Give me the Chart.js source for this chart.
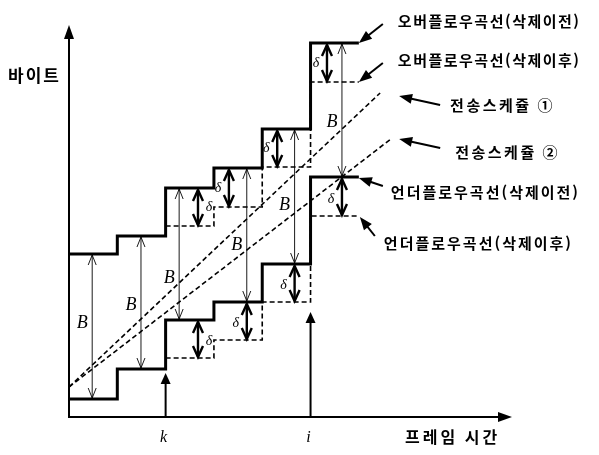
<!DOCTYPE html>
<html lang="ko">
<head>
<meta charset="utf-8">
<title>오버플로우 / 언더플로우 곡선</title>
<script src="https://cdn.jsdelivr.net/npm/chart.js@4.4.1/dist/chart.umd.min.js"></script>
<style>
  html, body { margin: 0; padding: 0; background: #fff; }
  #wrap { width: 599px; height: 455px; }
</style>
</head>
<body>
<div id="wrap"><canvas id="bufferChart" width="599" height="455"></canvas></div>
<script>
// frame boundaries (프레임 시간) and byte levels
const frames = [0, 1, 2, 3, 4, 5, 6]
const overBefore = [163, 181, 229, 249, 288, 374]   // 오버플로우곡선(삭제이전)
const underBefore = [18, 48, 97, 115, 153, 240]     // 언더플로우곡선(삭제이전)
const afterFrames = [2, 3, 4, 5, 6]
const overAfter = [191, 210, 250, 335]              // 오버플로우곡선(삭제이후)
const underAfter = [59, 77, 115, 201]               // 언더플로우곡선(삭제이후)
const sched1X = [0, 6.44], sched1Y = [30, 324]      // 전송스케쥴 ①
const sched2X = [0, 6.69], sched2Y = [30, 279]      // 전송스케쥴 ②

// where the B / δ arrows stand inside each frame
const bArrowX = [0.48, 1.49, 2.28, 3.68, 4.67, 5.65]
const bLabelY = [94, 112, 139, 172, 212, 295]
const overDeltaX = [2.67, 3.31, 4.31, 5.34]
const underDeltaX = [2.67, 3.68, 4.67, 5.65]
const deltaSide = [1, -1, -1, -1]
const markX = [2, 5], markLabels = ['k', 'i'], markTop = [44, 105]
const xMax = 9.17, yMax = 392

const stepPoints = (xs, levels) =>
    levels.map((y, i) => ({ x: xs[i], y })).concat([{ x: xs[levels.length], y: levels[levels.length - 1] }])
const linePoints = (xs, ys) => xs.map((x, i) => ({ x, y: ys[i] }))

const KR = '"Noto Sans CJK KR", "Noto Sans", sans-serif'
const SERIF = '"Liberation Serif", "DejaVu Serif", serif'

// pointer labels: anchor in data units, then pixel offsets for tip / tail / text
const pointers = [
    { text: '오버플로우곡선(삭제이전)', at: () => [6, overBefore[5]], tip: [0, 0], tail: [24, -19], label: [39, -22], sp: 1.5 },
    { text: '오버플로우곡선(삭제이후)', at: () => [6, overAfter[3]], tip: [0, 0], tail: [24, -19], label: [39, -22], sp: 1.5 },
    { text: '전송스케쥴 ①', at: () => [sched1X[1], sched1Y[1]], tip: [19, 3], tail: [41, 9], label: [51, 9], sp: 2.5 },
    { text: '전송스케쥴 ②', at: () => [sched2X[1], sched2Y[1]], tip: [7, 1], tail: [41, 9], label: [56, 13], sp: 2.5 },
    { text: '언더플로우곡선(삭제이전)', at: () => [6, underBefore[5]], tip: [0, 1], tail: [24, 8], label: [32, 14], sp: 2 },
    { text: '언더플로우곡선(삭제이후)', at: () => [6, underAfter[3]], tip: [1, 1], tail: [15, 19], label: [24, 26], sp: 2 }
]

const filledHead = (ctx, x, y, ang, len, half) => {
    ctx.beginPath()
    ctx.moveTo(x, y)
    ctx.lineTo(x - len * Math.cos(ang) + half * Math.sin(ang), y - len * Math.sin(ang) - half * Math.cos(ang))
    ctx.lineTo(x - len * Math.cos(ang) - half * Math.sin(ang), y - len * Math.sin(ang) + half * Math.cos(ang))
    ctx.closePath()
    ctx.fill()
}

const openHead = (ctx, x, y, ang, len, half) => {
    ctx.beginPath()
    ctx.moveTo(x - len * Math.cos(ang) + half * Math.sin(ang), y - len * Math.sin(ang) - half * Math.cos(ang))
    ctx.lineTo(x, y)
    ctx.lineTo(x - len * Math.cos(ang) - half * Math.sin(ang), y - len * Math.sin(ang) + half * Math.cos(ang))
    ctx.stroke()
}

// vertical double arrow between two pixel heights
const doubleArrow = (ctx, x, y1, y2, width, len, half) => {
    ctx.lineWidth = width
    ctx.beginPath()
    ctx.moveTo(x, y1)
    ctx.lineTo(x, y2)
    ctx.stroke()
    const down = y2 > y1 ? Math.PI / 2 : -Math.PI / 2
    openHead(ctx, x, y2, down, len, half)
    openHead(ctx, x, y1, -down, len, half)
}

const text = (ctx, str, x, y, font, align, spacing) => {
    ctx.font = font
    ctx.textAlign = align || 'left'
    ctx.textBaseline = 'middle'
    ctx.letterSpacing = (spacing || 0) + 'px'
    ctx.fillText(str, x, y)
    ctx.letterSpacing = '0px'
}

const annotations = {
    id: 'annotations',
    afterDatasetsDraw(chart) {
        const { ctx, chartArea } = chart
        const X = v => chart.scales.x.getPixelForValue(v)
        const Y = v => chart.scales.y.getPixelForValue(v)
        ctx.save()
        ctx.strokeStyle = '#000'
        ctx.fillStyle = '#000'
        ctx.lineCap = 'butt'

        // axes with arrow heads
        ctx.lineWidth = 2
        ctx.beginPath()
        ctx.moveTo(X(0), Y(yMax) + 8)
        ctx.lineTo(X(0), Y(0))
        ctx.lineTo(X(xMax) - 8, Y(0))
        ctx.stroke()
        filledHead(ctx, X(0), Y(yMax), -Math.PI / 2, 14, 5)
        filledHead(ctx, X(xMax), Y(0), 0, 14, 5)

        // k, i markers
        markX.forEach((m, i) => {
            ctx.lineWidth = 2
            ctx.beginPath()
            ctx.moveTo(X(m), Y(0))
            ctx.lineTo(X(m), Y(markTop[i]) + 8)
            ctx.stroke()
            filledHead(ctx, X(m), Y(markTop[i]), -Math.PI / 2, 11, 5)
            text(ctx, markLabels[i], X(m) - 2, chartArea.bottom + 21, 'italic 16px ' + SERIF, 'center')
        })

        // B arrows (thin) between the two curves before deletion
        ctx.lineWidth = 1
        bArrowX.forEach((bx, j) => {
            doubleArrow(ctx, X(bx), Y(overBefore[j]) + 1, Y(underBefore[j]) - 1, 0.9, 10, 4)
            text(ctx, 'B', X(bx) - 10, Y(bLabelY[j]), 'italic 18px ' + SERIF, 'center')
        })

        // δ arrows (thick)
        overDeltaX.forEach((dx, i) => {
            const f = afterFrames[i]
            const y1 = Y(overBefore[f]) + 2, y2 = Y(overAfter[i]) - 1
            doubleArrow(ctx, X(dx), y1, y2, 2.4, 11, 5)
            text(ctx, 'δ', X(dx) + deltaSide[i] * 11, (y1 + y2) / 2, 'italic 14px ' + SERIF, 'center')
        })
        underDeltaX.forEach((dx, i) => {
            const f = afterFrames[i]
            const y1 = Y(underBefore[f]) + 2, y2 = Y(underAfter[i]) - 1
            doubleArrow(ctx, X(dx), y1, y2, 2.4, 11, 5)
            text(ctx, 'δ', X(dx) + deltaSide[i] * 11, (y1 + y2) / 2 + 2, 'italic 14px ' + SERIF, 'center')
        })

        // pointer labels
        pointers.forEach(p => {
            const [ax, ay] = p.at()
            const tx = X(ax) + p.tip[0], ty = Y(ay) + p.tip[1]
            const sx = tx + p.tail[0], sy = ty + p.tail[1]
            const ang = Math.atan2(ty - sy, tx - sx)
            ctx.lineWidth = 2
            ctx.beginPath()
            ctx.moveTo(sx, sy)
            ctx.lineTo(tx - 8 * Math.cos(ang), ty - 8 * Math.sin(ang))
            ctx.stroke()
            filledHead(ctx, tx, ty, ang, 13, 5)
            text(ctx, p.text, tx + p.label[0], ty + p.label[1], 'bold 15px ' + KR, 'left', p.sp)
        })

        // axis titles
        text(ctx, '바이트', chartArea.left - 61, chartArea.top + 51, 'bold 17px ' + KR, 'left', 2)
        text(ctx, '프레임 시간', chartArea.right - 107, chartArea.bottom + 20, 'bold 16px ' + KR, 'left', 3)
        ctx.restore()
    }
}

const boldLine = { borderColor: '#000', borderWidth: 3, pointRadius: 0, showLine: true, fill: false, stepped: 'before', clip: false, order: 0 }
const dashLine = { borderColor: '#000', borderWidth: 1.6, borderDash: [5, 3], pointRadius: 0, showLine: true, fill: false, clip: false, order: 1 }

const data = {
    datasets: [
        { ...boldLine, label: '오버플로우곡선(삭제이전)', data: stepPoints(frames, overBefore) },
        { ...boldLine, label: '언더플로우곡선(삭제이전)', data: stepPoints(frames, underBefore) },
        { ...dashLine, label: '오버플로우곡선(삭제이후)', stepped: 'before', data: stepPoints(afterFrames, overAfter) },
        { ...dashLine, label: '언더플로우곡선(삭제이후)', stepped: 'before', data: stepPoints(afterFrames, underAfter) },
        { ...dashLine, label: '전송스케쥴 ①', data: linePoints(sched1X, sched1Y) },
        { ...dashLine, label: '전송스케쥴 ②', data: linePoints(sched2X, sched2Y) }
    ]
}

const options = {
    responsive: false,
    animation: false,
    layout: { padding: { left: 69, right: 87, top: 25, bottom: 38 } },
    plugins: { legend: { display: false }, tooltip: { enabled: false } },
    scales: {
        x: { type: 'linear', display: false, min: 0, max: xMax },
        y: { type: 'linear', display: false, min: 0, max: yMax }
    }
}

new Chart('bufferChart', { type: 'scatter', data, options, plugins: [annotations] })
</script>
</body>
</html>
